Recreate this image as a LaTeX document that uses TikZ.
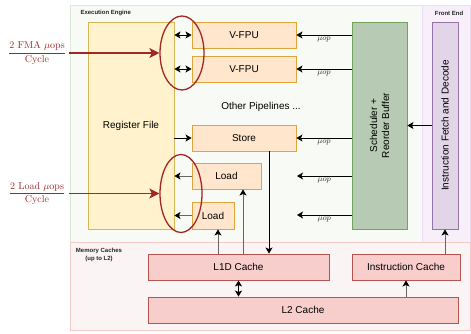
\documentclass[tikz,border=0pt]{standalone}
\usepackage{amsmath}
\usepackage{fontspec}
\setsansfont{Liberation Sans}
\usetikzlibrary{arrows.meta, positioning, calc, shapes.geometric}
\definecolor{ExecBack}{HTML}{F7FAF5}
\definecolor{ExecLine}{HTML}{DCE8D8}
\definecolor{FrontBack}{HTML}{F7F0FB}
\definecolor{FrontLine}{HTML}{EBDDF2}
\definecolor{MemBack}{HTML}{FBF4F4}
\definecolor{MemLine}{HTML}{F2CACA}
\definecolor{RegFill}{HTML}{FFF2CC}
\definecolor{RegLine}{HTML}{D6B656}
\definecolor{PipeFill}{HTML}{FFE6CC}
\definecolor{PipeLine}{HTML}{DFA53A}
\definecolor{SchedFill}{HTML}{B7CAB3}
\definecolor{SchedLine}{HTML}{74A35E}
\definecolor{FetchFill}{HTML}{E1D5E7}
\definecolor{FetchLine}{HTML}{9673A6}
\definecolor{CacheFill}{HTML}{F8CECC}
\definecolor{CacheLine}{HTML}{B85450}
\definecolor{RateRed}{HTML}{A32626}

\begin{document}
\begin{tikzpicture}[x=1pt, y=-1pt, font=\sffamily\fontsize{10}{12}\selectfont,
    box/.style={draw, line width=0.9pt, inner sep=0pt},
    pipe/.style={box, fill=PipeFill, draw=PipeLine, minimum height=26},
    cache/.style={box, fill=CacheFill, draw=CacheLine, minimum height=26},
    title/.style={font=\sffamily\bfseries\fontsize{6}{8}\selectfont, text=black!85},
    uop/.style={font=\footnotesize, text=black!80, inner sep=1pt, below=1pt},
    tip/.style={line width=0.8pt, -{Stealth[length=6pt, width=7pt, inset=1.5pt]}},
    dtip/.style={line width=0.8pt, {Stealth[length=6pt, width=7pt, inset=1.5pt]}-{Stealth[length=6pt, width=7pt, inset=1.5pt]}},
    gtip/.style={line width=0.8pt, black!60, -{Stealth[length=6pt, width=7pt, inset=1.5pt, black]}},
    ring/.style={ellipse, draw=RateRed, line width=1.3pt, inner sep=0pt},
    rate/.style={text=RateRed, font=\normalsize},
    redtip/.style={RateRed, line width=1.5pt, -{Stealth[length=10pt, width=10pt, inset=2.5pt]}}]

\useasboundingbox (0,0) rectangle (471,333);

% zonas
\filldraw[fill=ExecBack, draw=ExecLine, line width=0.8pt] (70,5) rectangle (422,242);
\filldraw[fill=FrontBack, draw=FrontLine, line width=0.8pt] (422,5) rectangle (470.5,242);
\filldraw[fill=MemBack, draw=MemLine, line width=0.8pt] (70,242) rectangle (470.5,330);
\node[title, anchor=west] (execTitle) at (77,13) {Execution Engine};
\node[title] (frontTitle) at (449,13) {Front End};
\node[title, align=center] (memTitle) at (99,255) {Memory Caches\\(up to L2)};

% bloques
\node[box, fill=RegFill, draw=RegLine, minimum width=86, minimum height=207] (reg) at (131,125.5) {Register File};
\node[pipe, minimum width=104] (fpuA) at (244,35) {V-FPU};
\node[pipe, minimum width=104] (fpuB) at (244,69) {V-FPU};
\node (other) at (261,107) {Other Pipelines ...};
\node[pipe, minimum width=104] (store) at (244,138) {Store};
\node[pipe, minimum width=69] (loadA) at (226.5,176) {Load};
\node[pipe, minimum width=42, minimum height=27] (loadB) at (213,215.5) {Load};
\node[box, fill=SchedFill, draw=SchedLine, minimum width=55, minimum height=207] (sched) at (379.5,125.5) {};
\node[rotate=90, align=center] (schedText) at (sched) {Scheduler +\\Reorder Buffer};
\node[box, fill=FetchFill, draw=FetchLine, minimum width=26, minimum height=207] (fetch) at (445,125.5) {};
\node[rotate=90] (fetchText) at (fetch) {Instruction Fetch and Decode};
\node[cache, minimum width=181] (l1d) at (238.5,267) {L1D Cache};
\node[cache, minimum width=108] (icache) at (406,267) {Instruction Cache};
\node[cache, minimum width=310] (l2) at (303,310) {L2 Cache};

% flechas
\coordinate (endA) at (297,176);
\coordinate (endB) at (297,215);
\draw[tip] (sched.west |- fpuA) -- (fpuA.east) node[uop, midway] (uopA) {$\mu op$};
\draw[tip] (sched.west |- fpuB) -- (fpuB.east) node[uop, midway] (uopB) {$\mu op$};
\draw[tip] (sched.west |- store) -- (store.east) node[uop, midway] (uopC) {$\mu op$};
\draw[tip] (sched.west |- endA) -- (endA) node[uop, midway] (uopD) {$\mu op$};
\draw[tip] (sched.west |- endB) -- (endB) node[uop, midway] (uopE) {$\mu op$};
\draw[tip] (fetch.west) -- (sched.east);

\draw[dtip] (reg.east |- fpuA) -- (fpuA.west);
\draw[dtip] (reg.east |- fpuB) -- (fpuB.west);
\draw[tip] (reg.east |- store) -- (store.west);
\draw[gtip] (loadA.west) -- (reg.east |- loadA);
\draw[gtip] (loadB.west) -- (reg.east |- loadB);

\draw[tip] ([xshift=25pt]store.south) -- ([xshift=25pt]store.south |- l1d.north);
\draw[gtip] ([xshift=5pt]loadB.south |- l1d.north) -- ([xshift=5pt]loadB.south);
\draw[gtip] ([xshift=16.5pt]loadA.south |- l1d.north) -- ([xshift=16.5pt]loadA.south);
\draw[dtip] (l1d.south) -- (l1d.south |- l2.north);
\draw[gtip] (icache.south |- l2.north) -- (icache.south);
\draw[gtip] (icache.north -| fetch.south) -- (fetch.south);

% limites
\node[ring, minimum width=44, minimum height=74] (ringA) at (182,53) {};
\node[ring, minimum width=42, minimum height=78] (ringB) at (181,193.5) {};
\node[rate] (rateA) at (37,53) {$\dfrac{2\ \mathrm{FMA}\ \mu\mathrm{ops}}{\mathrm{Cycle}}$};
\node[rate] (rateB) at (37,193.5) {$\dfrac{2\ \mathrm{Load}\ \mu\mathrm{ops}}{\mathrm{Cycle}}$};
\draw[redtip] (rateA.east) -- (ringA.west);
\draw[redtip] (rateB.east) -- (ringB.west);

\end{tikzpicture}
\end{document}
